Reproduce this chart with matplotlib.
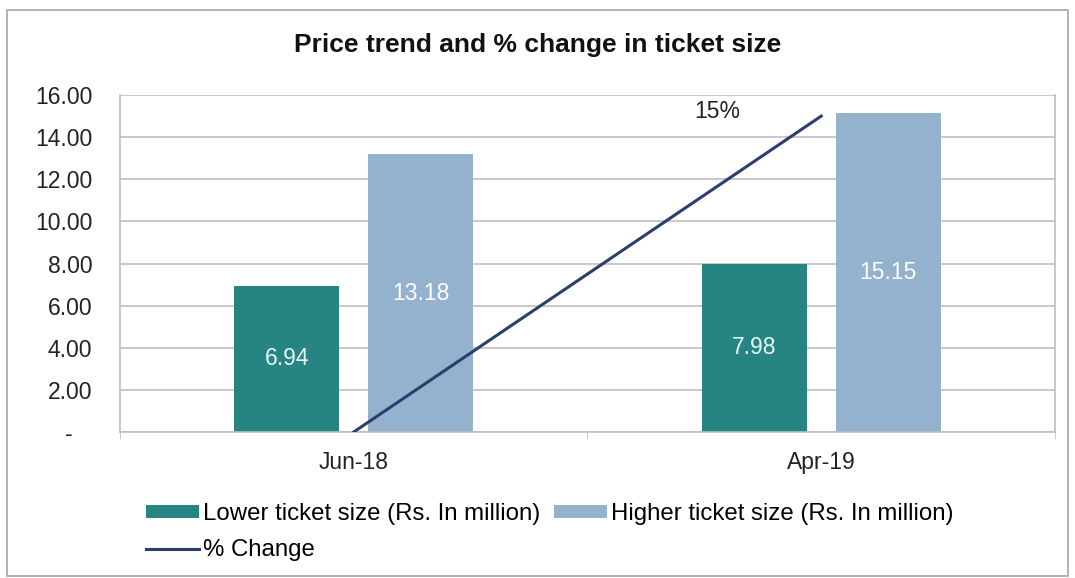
import numpy as np
import matplotlib
matplotlib.use("Agg")
import matplotlib.pyplot as plt
from matplotlib.patches import Rectangle, Patch
from matplotlib.lines import Line2D

plt.rcParams['font.family'] = ['Liberation Sans', 'DejaVu Sans']

# data
categories = ["Jun-18", "Apr-19"]
lower_size = [6.94, 7.98]
higher_size = [13.18, 15.15]
pct_change = [0, 15]
yticks = [0, 2, 4, 6, 8, 10, 12, 14, 16]

teal = "#268582"
light = "#94B1CD"
navy = "#2B3F6E"
grid = "#BFBFBF"
fs = 16.5

fig = plt.figure(figsize=(10.75, 5.78), dpi=100)
fig.patches.append(Rectangle((0.0065, 0.004), 0.987, 0.979, transform=fig.transFigure,
                             fill=False, edgecolor="#A6A6A6", linewidth=1.2))

ax = fig.add_axes([0.1116, 0.2526, 0.8698, 0.583])
x = np.arange(len(categories))
w = 0.225
off = 0.143
b1 = ax.bar(x - off, lower_size, w, color=teal, zorder=2)
b2 = ax.bar(x + off, higher_size, w, color=light, zorder=2)

for rect, v in zip(b1, lower_size):
    ax.text(rect.get_x() + rect.get_width() / 2, v / 2, f"{v:.2f}", ha="center", va="center",
            color="#E6F7F7", fontsize=fs, zorder=3)
for rect, v in zip(b2, higher_size):
    ax.text(rect.get_x() + rect.get_width() / 2, v / 2, f"{v:.2f}", ha="center", va="center",
            color="white", fontsize=fs, zorder=3)

ax.set_xlim(-0.5, 1.5)
ax.set_ylim(0, 16)
ax.set_yticks(yticks)
ax.set_yticklabels(["-   " if t == 0 else f"{t:.2f}" for t in yticks], fontsize=fs, color="#222222")
ax.set_xticks(x)
ax.set_xticklabels(categories, fontsize=fs, color="#222222")
ax.set_xticks([-0.5, 0.5, 1.5], minor=True)
ax.tick_params(axis="x", which="major", length=0, pad=14)
ax.tick_params(axis="x", which="minor", length=5, color=grid)
ax.tick_params(axis="y", length=0, pad=20)
ax.yaxis.grid(True, color=grid, linewidth=1.2, zorder=0)
ax.set_axisbelow(True)
for s in ["left", "right", "bottom"]:
    ax.spines[s].set_color(grid)
    ax.spines[s].set_linewidth(1.2)
ax.spines["top"].set_visible(False)

ax2 = ax.twinx()
ax2.set_ylim(0, 16)
ax2.plot(x, pct_change, color=navy, linewidth=2.2, zorder=4)
ax2.text(x[1] - 0.222, pct_change[1] + 0.2, f"{pct_change[1]}%", ha="center", va="center",
         fontsize=fs, color="#222222")
ax2.axis("off")

fig.text(0.5, 0.922, "Price trend and % change in ticket size", ha="center", va="center",
         fontsize=19, fontweight="bold", color="#111111")

# column-major fill: lower / % change in col 1, higher in col 2
handles = [Patch(facecolor=teal), Line2D([0], [0], color=navy, linewidth=2.2),
           Patch(facecolor=light)]
labels = ["Lower ticket size (Rs. In million)", "% Change", "Higher ticket size (Rs. In million)"]
fig.legend(handles, labels, loc="upper left", bbox_to_anchor=(0.136, 0.13), ncol=2,
           frameon=False, fontsize=17.3, handlelength=2.2, handleheight=0.42,
           handletextpad=0.15, columnspacing=0.6, labelspacing=0.6,
           borderpad=0, borderaxespad=0)

plt.savefig("out.png", dpi=100)
